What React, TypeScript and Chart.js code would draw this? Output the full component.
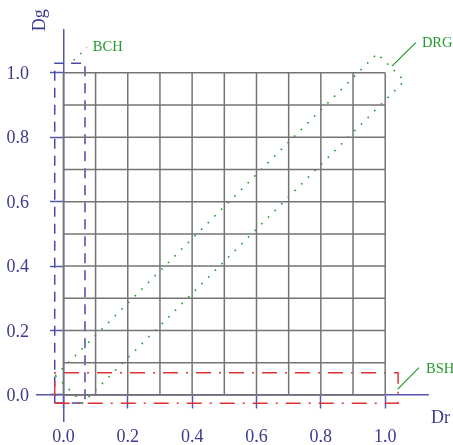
import React, { useEffect, useRef } from 'react';
import { Chart, registerables } from 'chart.js';
Chart.register(...registerables);

// axis range and ticks
const axisMin = -0.083;
const axisMax = 1.133;
const tickValues = [0, 0.2, 0.4, 0.6, 0.8, 1.0];
const tickLabels = ['0.0', '0.2', '0.4', '0.6', '0.8', '1.0'];
const gridValues = [0, 0.1, 0.2, 0.3, 0.4, 0.5, 0.6, 0.7, 0.8, 0.9, 1.0];

// BCH region (blue dashed rectangle)
const bchX = [-0.027, 0.067, 0.067, -0.027, -0.027];
const bchY = [-0.025, -0.025, 1.03, 1.03, -0.025];
// BSH region (red dash-dot rectangle)
const bshX = [-0.027, 1.04, 1.04, -0.027, -0.027];
const bshY = [-0.026, -0.026, 0.069, 0.069, -0.026];
// DRG region (green dotted band along diagonal)
const drgX = [-0.025, 0.06, 1.06, 0.975, -0.025];
const drgY = [0.06, -0.025, 0.975, 1.06, 0.06];

// annotation labels (data coordinates)
const labelNames = ['BCH', 'DRG', 'BSH'];
const labelX = [0.0915, 1.114, 1.127];
const labelY = [1.067, 1.081, 0.069];
const leaderX0 = [0.032, 1.021, 1.039];
const leaderY0 = [1.039, 1.021, 0.018];
const leaderX1 = [0.073, 1.095, 1.105];
const leaderY1 = [1.079, 1.094, 0.085];
const leaderDotted = [true, false, false];

const xTitle = 'Dr';
const yTitle = 'Dg';

const AXIS_COLOR = '#5656ae';
const TEXT_COLOR = '#3a3a8e';
const GRID_COLOR = '#747474';
const GREEN = '#22992a';
const RED = '#e03333';
const BLUE = '#4a4aaa';
const FONT = '"Liberation Serif", "Times New Roman", serif';

const pts = (xs: number[], ys: number[]) => xs.map((x, i) => ({ x, y: ys[i] }));

export default function App() {
  const ref = useRef<HTMLCanvasElement | null>(null);
  useEffect(() => {
    if (!ref.current) return;
    const datasets: any[] = [];
    gridValues.forEach((v) => {
      datasets.push({ data: pts([v, v], [0, 1]), borderColor: GRID_COLOR, borderWidth: 1.5 });
      datasets.push({ data: pts([0, 1], [v, v]), borderColor: GRID_COLOR, borderWidth: 1.5 });
    });
    datasets.push({ data: pts(drgX, drgY), borderColor: GREEN, borderWidth: 1.6, borderDash: [1.6, 7.8] });
    datasets.push({ data: pts(bshX, bshY), borderColor: RED, borderWidth: 1.5, borderDash: [15, 8, 2, 8] });
    datasets.push({ data: pts(bchX, bchY), borderColor: BLUE, borderWidth: 1.5, borderDash: [10, 7] });
    labelNames.forEach((_, i) => {
      datasets.push({
        data: pts([leaderX0[i], leaderX1[i]], [leaderY0[i], leaderY1[i]]),
        borderColor: GREEN,
        borderWidth: leaderDotted[i] ? 1.5 : 1.2,
        borderDash: leaderDotted[i] ? [1.5, 7.5] : [],
      });
    });
    datasets.forEach((d) => {
      d.showLine = true;
      d.pointRadius = 0;
      d.pointHoverRadius = 0;
      d.fill = false;
      d.clip = false;
      d.tension = 0;
    });

    const annotate = {
      id: 'annotate',
      afterDatasetsDraw(chart: any) {
        const { ctx } = chart;
        const xs = chart.scales.x;
        const ys = chart.scales.y;
        const x0 = xs.getPixelForValue(0);
        const y0 = ys.getPixelForValue(0);
        ctx.save();
        // tick labels
        ctx.font = `18px ${FONT}`;
        ctx.fillStyle = TEXT_COLOR;
        ctx.textBaseline = 'alphabetic';
        ctx.textAlign = 'center';
        tickValues.forEach((v, i) => {
          ctx.fillText(tickLabels[i], xs.getPixelForValue(v), y0 + 47);
        });
        ctx.textAlign = 'right';
        tickValues.forEach((v, i) => {
          ctx.fillText(tickLabels[i], x0 - 34.5, ys.getPixelForValue(v) + 6.2);
        });
        // annotation labels
        ctx.font = `14.5px ${FONT}`;
        ctx.fillStyle = GREEN;
        ctx.textAlign = 'left';
        labelNames.forEach((name, i) => {
          ctx.fillText(name, xs.getPixelForValue(labelX[i]), ys.getPixelForValue(labelY[i]));
        });
        // axis titles
        ctx.font = `18px ${FONT}`;
        ctx.fillStyle = TEXT_COLOR;
        ctx.fillText(xTitle, xs.getPixelForValue(1.142), ys.getPixelForValue(-0.086));
        ctx.translate(xs.getPixelForValue(-0.058), ys.getPixelForValue(1.163));
        ctx.rotate(-Math.PI / 2);
        ctx.textAlign = 'center';
        ctx.fillText(yTitle, 0, 0);
        ctx.restore();
      },
    };

    const axis = (pos: any) => ({
      type: 'linear',
      min: axisMin,
      max: axisMax,
      position: pos,
      afterBuildTicks: (s: any) => {
        s.ticks = tickValues.map((v) => ({ value: v }));
      },
      border: { display: true, color: AXIS_COLOR, width: 1.5 },
      grid: {
        display: true,
        drawOnChartArea: false,
        drawTicks: true,
        tickLength: 13,
        tickColor: AXIS_COLOR,
        tickWidth: 1.5,
      },
      ticks: { display: false },
    });

    const chart = new Chart(ref.current, {
      type: 'scatter',
      data: { datasets },
      options: {
        responsive: false,
        animation: false,
        events: [],
        layout: { padding: { left: 36.7, right: 25, top: 30, bottom: 23.3 } },
        plugins: { legend: { display: false }, tooltip: { enabled: false } },
        scales: { x: axis({ y: 0 }), y: axis({ x: 0 }) },
      } as any,
      plugins: [annotate],
    });
    return () => chart.destroy();
  }, []);

  return (
    <div style={{ position: 'absolute', left: 0, top: 0, width: 453, height: 445, background: '#fff' }}>
      <canvas ref={ref} width={453} height={445} style={{ width: 453, height: 445 }} />
    </div>
  );
}
